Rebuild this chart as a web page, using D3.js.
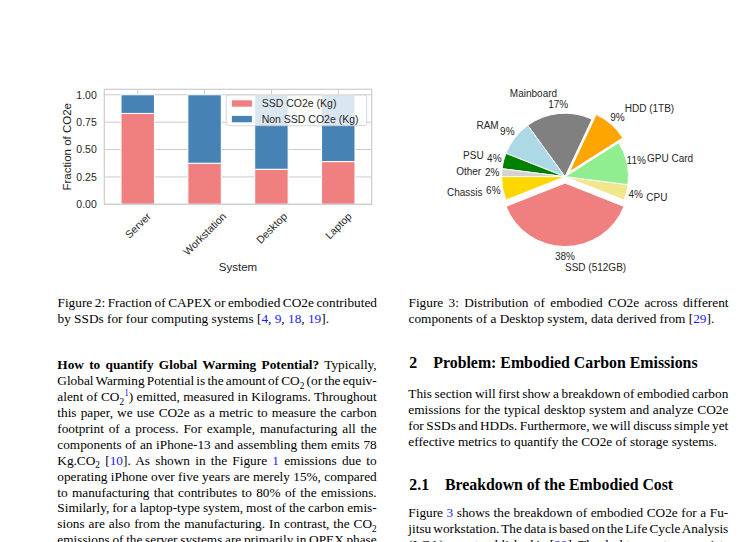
<!DOCTYPE html>
<html>
<head>
<meta charset="utf-8">
<script src="https://cdn.jsdelivr.net/npm/d3@7"></script>
<style>
body { margin: 0; background: #fff; }
svg { display: block; }
.chart text { font-family: "Liberation Sans", Arial, sans-serif; fill: #262626; }
.page text { font-family: "Liberation Serif", "Times New Roman", serif; fill: #000; }
.page .link { fill: #1a1aff; }
</style>
</head>
<body>
<svg id="page" width="756" height="542"></svg>
<script>
// Figure 2 data
var systems = ['Server', 'Workstation', 'Desktop', 'Laptop'];
var ssdShare = [0.83, 0.375, 0.32, 0.39];
var nonSsdShare = [0.17, 0.625, 0.68, 0.61];
var yTicks = [0, 0.25, 0.5, 0.75, 1.0];
var seriesNames = ['SSD CO2e (Kg)', 'Non SSD CO2e (Kg)'];

// Figure 3 data
var parts = ['CPU', 'GPU Card', 'HDD (1TB)', 'Mainboard', 'RAM', 'PSU', 'Other', 'Chassis', 'SSD (512GB)'];
var partShare = [4, 11, 9, 17, 9, 4, 2, 6, 38];
var explodedParts = ['HDD (1TB)', 'SSD (512GB)'];

var barColors = ['#f08080', '#4682b4'];
var partColors = {
    'CPU': '#f0e68c', 'GPU Card': '#90ee90', 'HDD (1TB)': '#ffa500', 'Mainboard': '#808080',
    'RAM': '#add8e6', 'PSU': '#008000', 'Other': '#d3d3d3', 'Chassis': '#ffd700', 'SSD (512GB)': '#f08080'
};

var svg = d3.select('#page');

function drawBars() {
    var left = 104.3, right = 371.7, bottom = 204.3, top = 89.3;
    var g = svg.append('g').attr('class', 'chart');

    var x = d3.scaleBand().domain(systems).range([left, right]).paddingInner(0.5).paddingOuter(0.25);
    var y = d3.scaleLinear().domain([0, 1.05]).range([bottom, top]);

    // grid
    g.append('g').selectAll('line').data(yTicks).enter().append('line')
        .attr('x1', left).attr('x2', right)
        .attr('y1', function(d) { return y(d); }).attr('y2', function(d) { return y(d); })
        .attr('stroke', '#cccccc').attr('stroke-width', 1);
    g.append('g').selectAll('line').data(systems).enter().append('line')
        .attr('x1', function(d) { return x(d) + x.bandwidth() / 2; })
        .attr('x2', function(d) { return x(d) + x.bandwidth() / 2; })
        .attr('y1', top).attr('y2', bottom)
        .attr('stroke', '#cccccc').attr('stroke-width', 1);

    var rows = systems.map(function(s, i) { return { system: s, ssd: ssdShare[i], non: nonSsdShare[i] }; });
    var stacked = d3.stack().keys(['ssd', 'non'])(rows);

    g.append('g').selectAll('g').data(stacked).enter().append('g')
        .attr('fill', function(d, i) { return barColors[i]; })
        .selectAll('rect').data(function(d) { return d; }).enter().append('rect')
        .attr('x', function(d) { return x(d.data.system); })
        .attr('width', x.bandwidth())
        .attr('y', function(d) { return y(d[1]); })
        .attr('height', function(d) { return y(d[0]) - y(d[1]); })
        .attr('stroke', '#fff').attr('stroke-width', 1);

    g.append('rect').attr('x', left).attr('y', top).attr('width', right - left).attr('height', bottom - top)
        .attr('fill', 'none').attr('stroke', '#cccccc').attr('stroke-width', 1.2);

    var yAxis = g.append('g').attr('transform', 'translate(' + left + ',0)')
        .call(d3.axisLeft(y).tickValues(yTicks).tickFormat(d3.format('.2f')).tickSize(0).tickPadding(7.5));
    yAxis.select('.domain').remove();
    yAxis.selectAll('text').style('font-size', '10.5px').attr('fill', '#262626').style('font-family', null);

    var xAxis = g.append('g').attr('transform', 'translate(0,' + bottom + ')')
        .call(d3.axisBottom(x).tickSize(0));
    xAxis.select('.domain').remove();
    xAxis.selectAll('text')
        .style('font-size', '10.5px').attr('fill', '#262626')
        .attr('text-anchor', 'middle').attr('dominant-baseline', 'central')
        .attr('y', null).attr('dy', null)
        .attr('transform', function() {
            var w = this.getComputedTextLength();
            var half = (w + 11) * Math.SQRT1_2 / 2;
            return 'translate(0,' + (6 + half) + ') rotate(-45)';
        });
    xAxis.attr('font-family', null);
    yAxis.attr('font-family', null);

    g.append('text').attr('x', (left + right) / 2).attr('y', 270.8)
        .attr('text-anchor', 'middle').style('font-size', '11.5px').text('System');
    g.append('text').attr('transform', 'translate(66.7,' + (top + bottom) / 2 + ') rotate(-90)')
        .attr('text-anchor', 'middle').attr('dominant-baseline', 'central')
        .style('font-size', '11.5px').text('Fraction of CO2e');

    // legend
    var lg = g.append('g');
    lg.append('rect').attr('x', 226.2).attr('y', 95).attr('width', 140.5).attr('height', 30.7)
        .attr('rx', 2.5).attr('fill', '#fff').attr('fill-opacity', 0.8)
        .attr('stroke', '#cccccc').attr('stroke-width', 0.8);
    seriesNames.forEach(function(name, i) {
        lg.append('rect').attr('x', 231.7).attr('y', 100 + i * 15.7).attr('width', 20.5).attr('height', 7)
            .attr('fill', barColors[i]).attr('stroke', '#fff').attr('stroke-width', 0.6);
        lg.append('text').attr('x', 261.7).attr('y', 107.2 + i * 15.7)
            .style('font-size', '10.5px').text(name);
    });
}

function drawPie() {
    var cx = 565, cy = 176.7, r = 63.5;
    var pctDist = 73, labelDist = 84;
    var g = svg.append('g').attr('class', 'chart');
    var total = d3.sum(partShare);

    var start = Math.PI / 2 + 21.6 * Math.PI / 180;
    var pie = d3.pie().sort(null).startAngle(start).endAngle(start - 2 * Math.PI);
    var arc = d3.arc().innerRadius(0).outerRadius(r);
    var slices = pie(partShare);

    slices.forEach(function(s, i) {
        var name = parts[i];
        var mid = (s.startAngle + s.endAngle) / 2;
        var ux = Math.sin(mid), uy = -Math.cos(mid);
        var off = explodedParts.indexOf(name) >= 0 ? 0.1 * r : 0;
        var sg = g.append('g').attr('transform', 'translate(' + (cx + off * ux) + ',' + (cy + off * uy) + ')');
        sg.append('path').attr('d', arc(s)).attr('fill', partColors[name])
            .attr('stroke', '#fff').attr('stroke-width', 1);
        sg.append('text').attr('x', pctDist * ux).attr('y', pctDist * uy)
            .attr('text-anchor', 'middle').attr('dominant-baseline', 'central')
            .style('font-size', '10px').text(d3.format('.0f')(partShare[i] / total * 100) + '%');
        sg.append('text').attr('x', labelDist * ux).attr('y', labelDist * uy)
            .attr('text-anchor', ux > 0 ? 'start' : 'end').attr('dominant-baseline', 'central')
            .style('font-size', '10px').text(name);
    });
}

// page text
function sub(t) { return { t: t, k: 'sub' }; }
function sup(t) { return { t: t, k: 'sup', link: true }; }
function link(t) { return { t: t, k: '', link: true }; }
function bold(t) { return { t: t, k: 'b' }; }

var captionLeft = [
    ['Figure 2: Fraction of CAPEX or embodied CO2e contributed'],
    ['by SSDs for four computing systems [', link('4'), ', ', link('9'), ', ', link('18'), ', ', link('19'), '].']
];
var captionRight = [
    ['Figure 3: Distribution of embodied CO2e across different'],
    ['components of a Desktop system, data derived from [', link('29'), '].']
];
var leftBody = [
    [bold('How to quantify Global Warming Potential?'), ' Typically,'],
    ['Global Warming Potential is the amount of CO', sub('2'), ' (or the equiv-'],
    ['alent of CO', sub('2'), sup('1'), ') emitted, measured in Kilograms. Throughout'],
    ['this paper, we use CO2e as a metric to measure the carbon'],
    ['footprint of a process. For example, manufacturing all the'],
    ['components of an iPhone-13 and assembling them emits 78'],
    ['Kg.CO', sub('2'), ' [', link('10'), ']. As shown in the Figure ', link('1'), ' emissions due to'],
    ['operating iPhone over five years are merely 15%, compared'],
    ['to manufacturing that contributes to 80% of the emissions.'],
    ['Similarly, for a laptop-type system, most of the carbon emis-'],
    ['sions are also from the manufacturing. In contrast, the CO', sub('2')],
    ['emissions of the server systems are primarily in OPEX phase']
];
var sectionPara = [
    ['This section will first show a breakdown of embodied carbon'],
    ['emissions for the typical desktop system and analyze CO2e'],
    ['for SSDs and HDDs. Furthermore, we will discuss simple yet'],
    ['effective metrics to quantify the CO2e of storage systems.']
];
var subsectionPara = [
    ['Figure ', link('3'), ' shows the breakdown of embodied CO2e for a Fu-'],
    ['jitsu workstation. The data is based on the Life Cycle Analysis'],
    ['(LCA) report published in [', link('29'), ']. The desktop system consists']
];

function drawLine(g, x, y, segs, width, size) {
    var t = g.append('text').attr('x', x).attr('y', y).style('font-size', size + 'px');
    var shift = 0, plain = '';
    segs.forEach(function(s) {
        if (typeof s === 'string') s = { t: s, k: '' };
        var want = s.k === 'sub' ? size * 0.28 : (s.k === 'sup' ? -size * 0.38 : 0);
        var span = t.append('tspan').text(s.t);
        if (want !== shift) { span.attr('dy', want - shift); shift = want; }
        if (s.k === 'sub' || s.k === 'sup') span.style('font-size', (size * 0.7) + 'px');
        if (s.k === 'b') span.style('font-weight', 'bold');
        if (s.link) span.attr('class', 'link');
        plain += s.t;
    });
    if (width) {
        var natural = t.node().getComputedTextLength();
        var spaces = plain.split(' ').length - 1;
        if (spaces > 0) t.style('word-spacing', ((width - natural) / spaces) + 'px');
    }
    return t;
}

function drawBlock(g, x, y0, step, lines, width, size, lastJustified) {
    lines.forEach(function(segs, i) {
        var justify = i < lines.length - 1 || lastJustified;
        drawLine(g, x, y0 + i * step, segs, justify ? width : 0, size);
    });
}

function drawHeading(g, num, title, y, titleX, endX, size) {
    g.append('text').attr('x', 409.3).attr('y', y).style('font-size', size + 'px')
        .style('font-weight', 'bold').text(num);
    var t = g.append('text').attr('x', titleX).attr('y', y).style('font-size', size + 'px')
        .style('font-weight', 'bold').text(title);
    // scale the heading size so it spans the same width as the reference
    var w = t.node().getComputedTextLength();
    var s = size * (endX - titleX) / w;
    t.style('font-size', s + 'px');
    g.selectAll('text').filter(function() { return this.textContent === num; }).style('font-size', s + 'px');
}

function drawPage() {
    var g = svg.append('g').attr('class', 'page');
    var size = 13.3;
    drawBlock(g, 57.5, 307, 16.3, captionLeft, 319.5, size, false);
    drawBlock(g, 408.5, 307, 16.3, captionRight, 320, size, false);
    drawBlock(g, 57.3, 369.3, 15.9, leftBody, 319.4, size, true);
    drawHeading(g, '2', 'Problem: Embodied Carbon Emissions', 368.3, 433.3, 697.7, 16);
    drawBlock(g, 408.3, 398.3, 15.9, sectionPara, 320, size, false);
    drawHeading(g, '2.1', 'Breakdown of the Embodied Cost', 490, 445, 673.3, 15);
    drawBlock(g, 408.3, 516.7, 15.9, subsectionPara, 320, size, true);
}

drawBars();
drawPie();
drawPage();
</script>
</body>
</html>
